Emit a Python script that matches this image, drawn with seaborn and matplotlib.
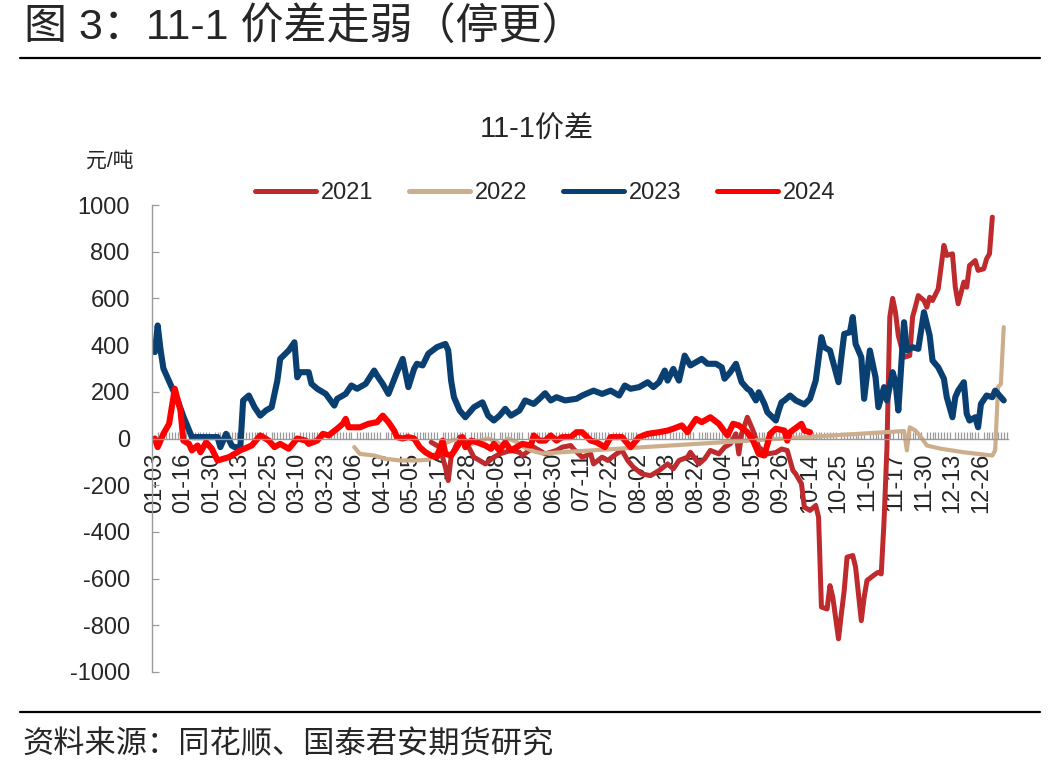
import numpy as np
import pandas as pd
import matplotlib
matplotlib.use("Agg")
import matplotlib.pyplot as plt
import seaborn as sns

# ---------------- data ----------------
n_categories = 300
tick_labels = ["01-03", "01-16", "01-30", "02-13", "02-25", "03-10", "03-23", "04-06",
               "04-19", "05-05", "05-17", "05-28", "06-08", "06-19", "06-30", "07-11",
               "07-22", "08-02", "08-13", "08-24", "09-04", "09-15", "09-26", "10-14",
               "10-25", "11-05", "11-17", "11-30", "12-13", "12-26"]
tick_step = 10

idx_2021 = [97, 100, 102, 103, 104, 107, 109, 112, 114, 116, 119, 121, 125, 128, 129, 133, 135, 137,
            141, 143, 146, 147, 150, 153, 154, 157, 159, 162, 164, 166, 168, 171, 174, 177, 180, 182,
            184, 187, 188, 191, 193, 195, 198, 200, 202, 204, 205, 206, 208, 210, 212, 215, 218, 220,
            222, 224, 225, 227, 228, 230, 232, 233, 234, 236, 237, 238, 240, 241, 242, 243, 245, 246,
            248, 249, 250, 253, 254, 255, 256, 257, 258, 259, 260, 261, 263, 265, 266, 267, 268, 270,
            271, 272, 273, 275, 277, 278, 280, 281, 282, 284, 285, 286, 288, 289, 291, 292, 293, 294]
val_2021 = [-16, -37, -123, -180, -80, 6, -9, -80, -94, -109, -80, -66, -51, -59, -73, -37, -51, -66,
            -51, -37, -30, -45, -80, -66, -109, -80, -94, -66, -51, -94, -123, -152, -159, -137, -109, -130,
            -94, -80, -59, -109, -87, -51, -66, -37, -23, 20, -66, 20, 91, 34, -37, -66, -60, -45,
            -51, -137, -152, -194, -294, -308, -287, -337, -722, -730, -630, -680, -858, -751, -651, -508, -501, -551,
            -780, -680, -608, -580, -573, -580, -350, -40, 520, 600, 540, 440, 348, 355, 520, 565, 612, 591,
            562, 605, 591, 641, 827, 784, 791, 648, 577, 670, 648, 741, 762, 720, 727, 770, 791, 948]

idx_2022 = [70, 72, 77, 81, 86, 92, 96, 99, 102, 105, 108, 111, 114, 117, 120, 122, 124, 127, 130, 133,
            136, 263, 264, 265, 267, 269, 271, 276, 284, 294, 295, 296, 297, 298]
val_2022 = [-37, -66, -73, -87, -94, -94, -91, -60, -20, -5, -10, -25, -10, 0, -15, -30, 0, -15, -40, -55,
            -64, 32, -51, 48, 34, 6, -30, -44, -59, -73, -51, 220, 234, 477]

idx_2023 = [0, 1, 2, 3, 8, 10, 13, 16, 19, 22, 23, 25, 27, 28, 30, 31, 33, 35, 37, 39, 41, 43, 44, 47,
            49, 50, 51, 54, 55, 57, 60, 63, 64, 67, 69, 71, 74, 77, 78, 80, 82, 85, 87, 89, 91, 92, 94,
            96, 99, 102, 103, 104, 105, 107, 109, 112, 115, 117, 119, 121, 123, 125, 128, 130, 133, 135,
            137, 139, 141, 144, 148, 150, 154, 157, 160, 163, 165, 167, 170, 173, 175, 177, 179, 180, 182,
            184, 186, 188, 190, 192, 194, 197, 199, 200, 202, 204, 206, 208, 209, 211, 212, 214, 215, 218,
            219, 220, 221, 223, 225, 228, 230, 232, 234, 235, 237, 240, 241, 242, 244, 245, 246, 248, 249,
            251, 253, 254, 256, 257, 259, 260, 261, 263, 264, 266, 268, 270, 272, 273, 275, 277, 278, 280,
            281, 282, 284, 285, 286, 288, 289, 290, 292, 294, 295, 298]
val_2023 = [370, 484, 380, 300, 163, 95, 6, 6, 6, 6, -37, 20, -30, -37, -37, 163, 184, 134, 98, 120, 134, 248, 341, 377,
            412, 262, 284, 284, 234, 213, 191, 141, 170, 191, 227, 213, 234, 291, 270, 234, 191, 284, 341, 220, 298, 320, 313,
            363, 391, 405, 377, 248, 177, 120, 91, 134, 155, 98, 77, 98, 127, 98, 120, 163, 148, 170,
            194, 163, 177, 163, 170, 184, 205, 191, 205, 184, 227, 213, 220, 241, 220, 241, 291, 248, 298,
            248, 355, 313, 327, 341, 320, 320, 305, 256, 284, 320, 241, 213, 205, 163, 198, 148, 113, 77,
            120, 155, 163, 184, 163, 146, 170, 248, 434, 391, 377, 241, 348, 448, 455, 520, 405, 348, 170,
            377, 262, 134, 220, 163, 284, 241, 120, 498, 377, 391, 384, 541, 441, 334, 305, 256, 177, 91,
            177, 205, 241, 106, 77, 91, 48, 148, 184, 177, 205, 163]

idx_2024 = [0, 1, 3, 5, 7, 9, 10, 12, 13, 15, 16, 18, 20, 22, 26, 30, 34, 37, 40, 42, 44, 47, 50, 53,
            54, 57, 59, 61, 64, 66, 67, 68, 72, 75, 78, 80, 82, 84, 85, 87, 89, 91, 93, 95, 97, 99, 101,
            102, 104, 106, 108, 109, 111, 113, 116, 118, 119, 121, 123, 125, 127, 129, 132, 133, 135, 137,
            139, 141, 143, 146, 148, 150, 153, 155, 158, 160, 164, 167, 170, 173, 177, 180, 182, 185, 187,
            188, 190, 192, 195, 198, 201, 203, 205, 208, 210, 212, 214, 216, 218, 221, 222, 223, 227, 228, 230]
val_2024 = [0, -37, 20, 63, 213, 120, -9, -23, -51, -30, -59, -16, -44, -94, -80, -51, -30, 13, -9, -37, -23, -44, 0, -9,
            -23, -9, 20, 13, 42, 63, 84, 48, 48, 63, 70, 98, 70, 34, 6, 0, 6, 0, -37, -59, -73, -80, -9,
            -66, -73, -37, 6, -37, -9, -16, -30, -44, -23, -51, -16, -51, -37, -23, -30, 13, -9, -9,
            13, -9, 6, 6, 27, 27, -9, -16, -37, 6, 6, -37, 6, 20, 27, 34, 42, 56, 27,
            48, 84, 70, 91, 63, 13, 63, 56, 27, -9, -66, -73, 20, 42, 34, -9, 27, 63, 34, 27]

y_ticks = [-1000, -800, -600, -400, -200, 0, 200, 400, 600, 800, 1000]

series = [("2021", idx_2021, val_2021, "#BF2A2D", 3.6),
          ("2022", idx_2022, val_2022, "#CDAE8C", 3.0),
          ("2023", idx_2023, val_2023, "#0A3F72", 4.4),
          ("2024", idx_2024, val_2024, "#FF0000", 4.4)]

# ---------------- style ----------------
sns.set_theme(style="white")
plt.rcParams['font.family'] = ['Liberation Sans', 'Noto Sans CJK SC', 'DejaVu Sans']
plt.rcParams['axes.unicode_minus'] = False

fig = plt.figure(figsize=(10.58, 7.76), dpi=100)
ax = fig.add_axes([152 / 1058, 1 - 672 / 776, (1008 - 152) / 1058, 467 / 776])

for name, xs, ys, col, lw in series:
    df = pd.DataFrame({"x": xs, "y": ys})
    sns.lineplot(data=df, x="x", y="y", ax=ax, color=col, linewidth=lw, label=name,
                 sort=False, estimator=None)

ax.set_xlim(-1, 299.5)
ax.set_ylim(-1000, 1000)
ax.set_xlabel("")
ax.set_ylabel("")

for s in ["top", "right"]:
    ax.spines[s].set_visible(False)
ax.spines["bottom"].set_position(("data", 0))
ax.spines["bottom"].set_color("#9a9a9a")
ax.spines["left"].set_color("#9a9a9a")
ax.spines["bottom"].set_linewidth(1.0)
ax.spines["left"].set_linewidth(1.0)

major_pos = list(range(0, len(tick_labels) * tick_step, tick_step))
ax.set_xticks(major_pos)
ax.set_xticklabels(tick_labels, rotation=90, fontsize=17)
ax.set_xticks(list(range(n_categories)), minor=True)
ax.tick_params(axis="x", which="both", direction="in", length=5, width=0.9, color="#9a9a9a", pad=10)
ax.tick_params(axis="x", which="minor", bottom=True)

ax.set_yticks(y_ticks)
ax.set_yticklabels([str(v) for v in y_ticks], fontsize=17)
ax.tick_params(axis="y", direction="in", length=5, width=0.9, color="#9a9a9a", pad=16, left=True)

leg = ax.legend(loc="center", bbox_to_anchor=(545 / 1058, 1 - 193 / 776), bbox_transform=fig.transFigure,
                ncol=4, frameon=False, fontsize=17, handlelength=2.6, handletextpad=0.2,
                columnspacing=1.5)
for line in leg.get_lines():
    line.set_linewidth(3.6)

fig.text(537 / 1058, 1 - 130 / 776, "11-1价差", ha="center", va="center", fontsize=21)
fig.text(110 / 1058, 1 - 161 / 776, "元/吨", ha="center", va="center", fontsize=15)

fig.text(24 / 1058, 1 - 28 / 776, "图 3：11-1 价差走弱（停更）", ha="left", va="center", fontsize=31)
fig.text(22 / 1058, 1 - 745 / 776, "资料来源：同花顺、国泰君安期货研究", ha="left", va="center", fontsize=22.5)

fig.add_artist(plt.Line2D([20 / 1058, 1040 / 1058], [1 - 58 / 776, 1 - 58 / 776], color="black", lw=1.6))
fig.add_artist(plt.Line2D([20 / 1058, 1040 / 1058], [1 - 712 / 776, 1 - 712 / 776], color="black", lw=1.6))

fig.savefig("out.png", dpi=100)
